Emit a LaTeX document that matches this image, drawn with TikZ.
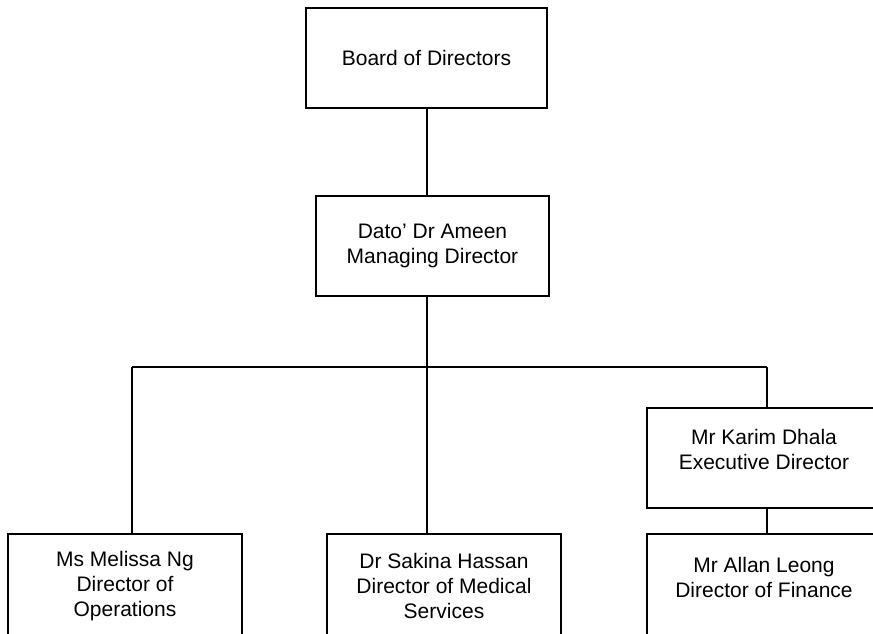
\documentclass[tikz,border=0pt]{standalone}
\usepackage{fontspec}
\setmainfont{Liberation Sans}
\usetikzlibrary{positioning}
\tikzstyle{post}=[rectangle, draw=black, line width=1.2, minimum width=234, minimum height=100, inner sep=0pt, align=center, font=\fontsize{21}{25}\selectfont]
\tikzstyle{low}=[post, minimum height=104]
\tikzstyle{raised}=[text depth=17pt]
\tikzstyle{l1}=[line width=1.2]

\begin{document}
\begin{tikzpicture}[x=1pt, y=1pt, node distance=1cm, on grid]

    \path[use as bounding box, clip] (0,0) rectangle (873,633);

    \node[post, minimum width=241] (board) at (426.5,575) {Board of Directors};
    \node[post, minimum width=233] (md) at (432.5,387) {Dato' Dr Ameen\\Managing Director};

    \node[low] (melissa) at (125,47) {Ms Melissa Ng\\Director of\\Operations};
    \node[low] (sakina) [right = 319pt of melissa] {Dr Sakina Hassan\\Director of Medical\\Services};
    \node[low, raised] (allan) [right = 320pt of sakina] {Mr Allan Leong\\Director of Finance};
    \node[post, raised] (karim) [above = 128pt of allan] {Mr Karim Dhala\\Executive Director};

    % bus line under the managing director
    \coordinate (bus) at (427,266);
    \coordinate (bl) at (132,266);
    \coordinate (br) at (767,266);

    \draw[l1] (board.south -| bus) -- (bus |- md.north);
    \draw[l1] (bus |- md.south) -- (bus);
    \draw[l1] (bl) -- (br);
    \draw[l1] (bl) -- (bl |- melissa.north);
    \draw[l1] (bus) -- (bus |- sakina.north);
    \draw[l1] (br) -- (br |- karim.north);
    \draw[l1] (br |- karim.south) -- (br |- allan.north);

\end{tikzpicture}
\end{document}
